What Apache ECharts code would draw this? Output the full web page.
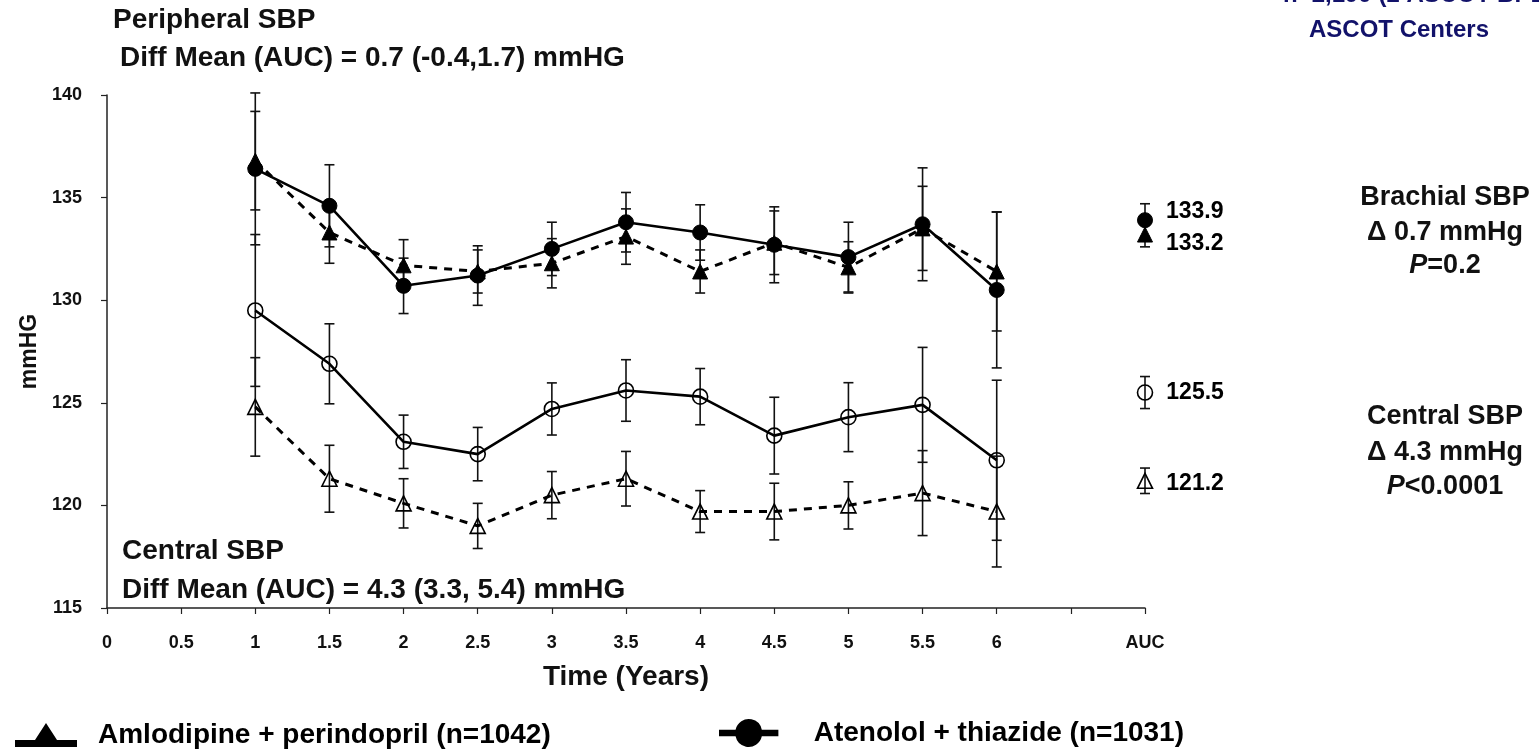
<!DOCTYPE html>
<html>
<head>
<meta charset="utf-8">
<script src="https://cdn.jsdelivr.net/npm/echarts@6/dist/echarts.min.js"></script>
<style>
  html, body { margin: 0; background: #fff; }
  #chart { width: 1539px; height: 750px; }
</style>
</head>
<body>
<div id="chart"></div>
<script>
// time points (years) and the AUC column
const years = [1, 1.5, 2, 2.5, 3, 3.5, 4, 4.5, 5, 5.5, 6];
const aucX = 7;

// peripheral (brachial) SBP
const atenPeriph    = [136.4, 134.6, 130.7, 131.2, 132.5, 133.8, 133.3, 132.7, 132.1, 133.7, 130.5];
const atenPeriphErr = [3.7, 2.0, 1.35, 1.45, 1.3, 1.45, 1.35, 1.85, 1.7, 2.75, 3.8];
const amloPeriph    = [136.8, 133.3, 131.7, 131.4, 131.8, 133.1, 131.4, 132.8, 131.6, 133.5, 131.4];
const amloPeriphErr = [2.4, 1.5, 1.25, 1.05, 1.2, 1.35, 1.05, 1.55, 1.25, 2.05, 2.9];

// central SBP
const atenCentral    = [129.5, 126.9, 123.1, 122.5, 124.7, 125.6, 125.3, 123.4, 124.3, 124.9, 122.2];
const atenCentralErr = [3.7, 1.95, 1.3, 1.3, 1.27, 1.5, 1.37, 1.87, 1.68, 2.8, 3.9];
const amloCentral    = [124.8, 121.3, 120.1, 119.0, 120.5, 121.3, 119.7, 119.7, 120.0, 120.6, 119.7];
const amloCentralErr = [2.4, 1.63, 1.2, 1.1, 1.15, 1.33, 1.02, 1.38, 1.15, 2.07, 2.7];

// AUC means and errors: [atenPeriph, amloPeriph, atenCentral, amloCentral]
const aucMeans = [133.9, 133.2, 125.5, 121.2];
const aucErrs  = [0.8, 0.6, 0.78, 0.62];

const NAME_AMLO = 'Amlodipine + perindopril (n=1042)';
const NAME_ATEN = 'Atenolol + thiazide (n=1031)';
const FONT = '"Liberation Sans", Arial, sans-serif';

function pairs(vals) {
  return years.map((x, i) => [x, vals[i]]);
}
function errData(vals, errs, k) {
  let d = years.map((x, i) => [x, vals[i] - errs[i], vals[i] + errs[i]]);
  d.push([aucX, aucMeans[k] - aucErrs[k], aucMeans[k] + aucErrs[k]]);
  return d;
}

function renderErrorBar(params, api) {
  const x = api.value(0);
  const lo = api.coord([x, api.value(1)]);
  const hi = api.coord([x, api.value(2)]);
  const half = 5;
  const style = { stroke: '#111', lineWidth: 1.6 };
  return {
    type: 'group',
    children: [
      { type: 'line', shape: { x1: lo[0], y1: lo[1], x2: hi[0], y2: hi[1] }, style: style },
      { type: 'line', shape: { x1: lo[0] - half, y1: lo[1], x2: lo[0] + half, y2: lo[1] }, style: style },
      { type: 'line', shape: { x1: hi[0] - half, y1: hi[1], x2: hi[0] + half, y2: hi[1] }, style: style }
    ]
  };
}

function errSeries(vals, errs, k) {
  return {
    type: 'custom',
    renderItem: renderErrorBar,
    data: errData(vals, errs, k),
    z: 1,
    silent: true,
    encode: { x: 0, y: [1, 2] }
  };
}

const filled = { color: '#000', borderColor: '#000', borderWidth: 1, opacity: 1 };
const hollow = { color: 'rgba(0,0,0,0)', borderColor: '#000', borderWidth: 1.6, opacity: 1 };
const solidLine = { color: '#000', width: 2.6, type: 'solid' };
const dashLine = { color: '#000', width: 3, type: [8, 7] };

function lineSeries(name, vals, symbol, itemStyle, lineStyle) {
  return {
    name: name,
    type: 'line',
    data: pairs(vals),
    symbol: symbol,
    symbolSize: 15,
    itemStyle: itemStyle,
    lineStyle: lineStyle,
    z: 2,
    emphasis: { disabled: true }
  };
}

function aucSeries(name, k, symbol, itemStyle, dy) {
  return {
    name: name,
    type: 'scatter',
    data: [[aucX, aucMeans[k]]],
    symbol: symbol,
    symbolSize: 15,
    itemStyle: itemStyle,
    z: 3,
    label: {
      show: true,
      position: 'right',
      distance: 13,
      offset: [0, dy],
      formatter: p => p.value[1].toFixed(1),
      fontFamily: FONT,
      fontWeight: 'bold',
      fontSize: 23,
      color: '#000',
      opacity: 1,
      textBorderWidth: 0
    },
    emphasis: { disabled: true }
  };
}

function txt(x, y, text, size, color) {
  return {
    type: 'text',
    x: x,
    y: y,
    style: {
      text: text,
      fontFamily: FONT,
      fontWeight: 'bold',
      fontSize: size,
      fill: color || '#111',
      align: 'left',
      verticalAlign: 'middle'
    }
  };
}
function ctxt(x, y, text, size, rich, color) {
  let t = txt(x, y, text, size, color);
  t.style.align = 'center';
  if (rich) t.style.rich = rich;
  return t;
}
const italicP = { i: { fontFamily: FONT, fontWeight: 'bold', fontStyle: 'italic', fontSize: 27, fill: '#111' } };
const NAVY = '#12126a';

const chart = echarts.init(document.getElementById('chart'));
chart.setOption({
  animation: false,
  backgroundColor: '#fff',
  grid: { left: 107, right: 394, top: 95, bottom: 142 },
  xAxis: {
    type: 'value',
    min: 0,
    max: 7,
    interval: 0.5,
    name: 'Time (Years)',
    nameLocation: 'middle',
    nameGap: 55,
    nameTextStyle: { fontFamily: FONT, fontWeight: 'bold', fontSize: 28, color: '#111' },
    axisLine: { lineStyle: { color: '#222', width: 1.5 } },
    axisTick: { length: 6, lineStyle: { color: '#222', width: 1.2 } },
    axisLabel: {
      margin: 26,
      fontFamily: FONT,
      fontWeight: 'bold',
      fontSize: 18,
      color: '#111',
      showMinLabel: true,
      showMaxLabel: true,
      formatter: v => (v === 7 ? 'AUC' : v === 6.5 ? '' : String(v))
    },
    splitLine: { show: false }
  },
  yAxis: {
    type: 'value',
    min: 115,
    max: 140,
    interval: 5,
    name: 'mmHG',
    nameLocation: 'middle',
    nameRotate: 90,
    nameGap: 64,
    nameTextStyle: { fontFamily: FONT, fontWeight: 'bold', fontSize: 23, color: '#111' },
    axisLine: { show: true, lineStyle: { color: '#222', width: 1.5 } },
    axisTick: { show: true, length: 6, lineStyle: { color: '#222', width: 1.2 } },
    axisLabel: { margin: 25, fontFamily: FONT, fontWeight: 'bold', fontSize: 18, color: '#111' },
    splitLine: { show: false }
  },
  legend: [
    {
      left: 10, top: 716,
      itemWidth: 62, itemHeight: 25,
      selectedMode: false,
      data: [{ name: NAME_AMLO, icon: 'path://M0,17 L20,17 L31,0 L42,17 L62,17 L62,24 L0,24 Z' }],
      itemStyle: { color: '#000', borderWidth: 0 },
      textStyle: { fontFamily: FONT, fontWeight: 'bold', fontSize: 28, color: '#000', padding: [0, 0, 0, 16] }
    },
    {
      left: 714, top: 714,
      itemWidth: 62, itemHeight: 28,
      selectedMode: false,
      data: [{ name: NAME_ATEN, icon: 'path://M0,11 L17.3,11 A14,14 0 0 1 44.7,11 L62,11 L62,18 L44.7,18 A14,14 0 0 1 17.3,18 L0,18 Z' }],
      itemStyle: { color: '#000', borderWidth: 0 },
      textStyle: { fontFamily: FONT, fontWeight: 'bold', fontSize: 28, color: '#000', padding: [0, 0, 0, 29] }
    }
  ],
  graphic: [
    txt(113, 20, 'Peripheral SBP', 28),
    txt(120, 58, 'Diff Mean (AUC) = 0.7 (-0.4,1.7) mmHG', 28),
    txt(122, 551, 'Central SBP', 28),
    txt(122, 590, 'Diff Mean (AUC) = 4.3 (3.3, 5.4) mmHG', 28),
    ctxt(1445, 198, 'Brachial SBP', 27),
    ctxt(1445, 233, 'Δ 0.7 mmHg', 27),
    ctxt(1445, 266, '{i|P}=0.2', 27, italicP),
    ctxt(1445, 417, 'Central SBP', 27),
    ctxt(1445, 453, 'Δ 4.3 mmHg', 27),
    ctxt(1445, 487, '{i|P}<0.0001', 27, italicP),
    txt(1283, -5, 'n=2,199 (2 ASCOT-BPLA', 24, NAVY),
    ctxt(1399, 30, 'ASCOT Centers', 24, null, NAVY)
  ],
  series: [
    errSeries(atenPeriph, atenPeriphErr, 0),
    errSeries(amloPeriph, amloPeriphErr, 1),
    errSeries(atenCentral, atenCentralErr, 2),
    errSeries(amloCentral, amloCentralErr, 3),
    lineSeries(NAME_ATEN, atenPeriph, 'circle', filled, solidLine),
    lineSeries(NAME_AMLO, amloPeriph, 'triangle', filled, dashLine),
    lineSeries(NAME_ATEN, atenCentral, 'circle', hollow, solidLine),
    lineSeries(NAME_AMLO, amloCentral, 'triangle', hollow, dashLine),
    aucSeries(NAME_ATEN, 0, 'circle', filled, -9),
    aucSeries(NAME_AMLO, 1, 'triangle', filled, 9),
    aucSeries(NAME_ATEN, 2, 'circle', hollow, 0),
    aucSeries(NAME_AMLO, 3, 'triangle', hollow, 3)
  ]
});
</script>
</body>
</html>
